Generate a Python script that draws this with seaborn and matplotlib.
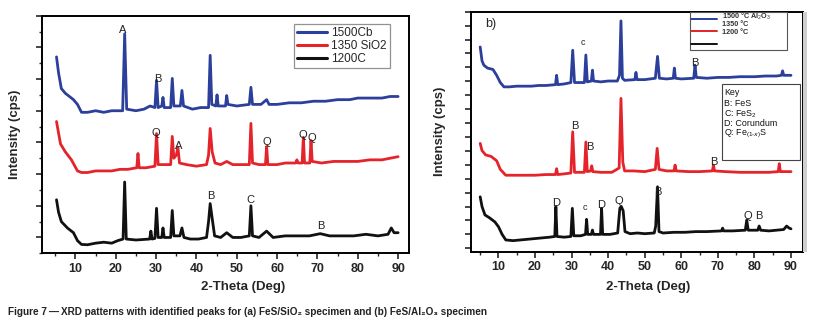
import numpy as np
import pandas as pd
import matplotlib.pyplot as plt
import seaborn as sns
from matplotlib.patches import Rectangle
from matplotlib.ticker import MultipleLocator

# (a) FeS/SiO2 - as (2-theta, offset intensity)
a_1500 = [(5.3, 6.7), (5.8, 6.2), (6.5, 5.7), (7.5, 5.55), (8.5, 5.45), (9.5, 5.35), (10.5, 5.2),
          (11.5, 4.95), (13, 4.95), (15, 5.0), (17, 4.95), (19, 5.0), (21.7, 5.0), (22.2, 7.43),
          (22.7, 5.05), (25, 5.0), (27, 5.05), (28.5, 5.15), (29.7, 5.1), (30.1, 5.96), (30.5, 5.1),
          (31.4, 5.15), (31.7, 5.42), (32.0, 5.1), (33.6, 5.1), (34.0, 6.02), (34.4, 5.15),
          (36.0, 5.15), (36.4, 5.64), (36.8, 5.15), (39, 5.05), (41, 5.1), (43.0, 5.1), (43.4, 6.75),
          (43.8, 5.2), (44.8, 5.15), (45.1, 5.5), (45.4, 5.15), (47.2, 5.15), (47.5, 5.48),
          (47.8, 5.2), (50, 5.15), (53.1, 5.2), (53.5, 5.74), (53.9, 5.2), (56, 5.2), (57.4, 5.35),
          (58, 5.2), (60, 5.2), (63, 5.25), (66, 5.25), (69, 5.3), (72, 5.3), (75, 5.35),
          (78, 5.35), (80, 5.4), (83, 5.4), (86, 5.4), (88, 5.45), (90, 5.45)]
a_1350 = [(5.3, 4.66), (5.8, 4.3), (6.3, 3.95), (7.5, 3.7), (9, 3.45), (10.5, 3.1), (11.5, 3.05),
          (13, 3.05), (15, 3.1), (17, 3.1), (19, 3.1), (21, 3.15), (23, 3.15), (25.2, 3.2),
          (25.5, 3.65), (25.8, 3.2), (27.5, 3.2), (29.7, 3.25), (30.1, 4.28), (30.5, 3.3),
          (32, 3.3), (33.6, 3.3), (34.0, 4.19), (34.4, 3.5), (35.0, 3.6), (35.4, 3.84), (35.8, 3.35),
          (37.5, 3.3), (40, 3.25), (42.5, 3.3), (43.0, 3.6), (43.4, 4.44), (43.9, 3.7), (44.6, 3.35),
          (46, 3.3), (47.5, 3.4), (49, 3.3), (51, 3.3), (53.1, 3.3), (53.5, 4.6), (53.9, 3.35),
          (55.5, 3.3), (57.1, 3.3), (57.4, 3.87), (57.7, 3.3), (60, 3.3), (62, 3.35), (64.6, 3.35),
          (64.9, 3.45), (65.2, 3.35), (66.2, 3.35), (66.5, 4.16), (66.8, 3.35), (68.1, 3.35),
          (68.4, 4.06), (68.7, 3.4), (71, 3.35), (74, 3.4), (77, 3.4), (80, 3.4), (83, 3.45),
          (86, 3.45), (88, 3.5), (90, 3.55)]
a_1200 = [(5.3, 2.19), (5.8, 1.8), (6.5, 1.5), (8, 1.3), (9.5, 1.15), (10.5, 0.9), (11.5, 0.78),
          (13, 0.77), (15, 0.82), (17, 0.85), (19, 0.82), (20.5, 0.9), (21.8, 0.95), (22.2, 2.75),
          (22.6, 0.95), (25, 0.92), (28.4, 0.95), (28.7, 1.2), (29.0, 0.95), (29.7, 0.97),
          (30.1, 1.92), (30.5, 1.0), (31.4, 1.0), (31.7, 1.3), (32.0, 1.0), (33.6, 1.0), (34.0, 1.85),
          (34.4, 1.05), (35.9, 1.05), (36.4, 1.3), (36.9, 1.0), (38.5, 0.95), (40.5, 0.95),
          (42.5, 1.0), (43.0, 1.5), (43.4, 2.07), (43.9, 1.6), (44.5, 1.05), (46, 1.0), (47.5, 1.15),
          (49, 1.0), (51, 1.0), (53.1, 1.05), (53.5, 2.0), (53.9, 1.05), (55.5, 1.0), (57.4, 1.2),
          (59, 1.0), (62, 1.05), (65, 1.05), (68, 1.05), (70.7, 1.12), (73, 1.05), (76, 1.05),
          (79, 1.05), (82, 1.1), (85, 1.05), (87.5, 1.1), (88.3, 1.3), (89, 1.15), (90, 1.15)]

# (b) FeS/Al2O3
b_1500 = [(5.0, 14.47), (5.5, 13.47), (6.0, 13.16), (7.0, 12.95), (8.5, 12.85), (9.5, 12.43),
          (10.5, 11.91), (11.5, 11.6), (13, 11.6), (15, 11.65), (17, 11.65), (19, 11.65), (21, 11.7),
          (23, 11.7), (25.6, 11.76), (25.9, 12.43), (26.2, 11.76), (28, 11.81), (29.8, 11.91),
          (30.3, 14.23), (30.8, 11.91), (32.5, 11.91), (33.5, 11.91), (33.9, 13.89), (34.3, 11.96),
          (35.4, 12.02), (35.7, 12.8), (36.0, 12.02), (38, 11.96), (40, 12.02), (42.5, 12.02),
          (43.1, 12.43), (43.5, 16.34), (43.9, 12.22), (44.5, 12.07), (47.3, 12.12), (47.6, 12.64),
          (47.9, 12.12), (50, 12.12), (52.9, 12.22), (53.5, 13.79), (54.0, 12.22), (56, 12.17),
          (57.8, 12.22), (58.1, 12.95), (58.4, 12.22), (60, 12.17), (63.4, 12.22), (63.75, 13.16),
          (64.1, 12.28), (67, 12.22), (70, 12.28), (73, 12.28), (76, 12.33), (80, 12.33),
          (83, 12.38), (86, 12.38), (87.4, 12.43), (87.7, 12.75), (88, 12.43), (90, 12.43)]
b_1350 = [(5.0, 7.54), (5.5, 7.02), (6.5, 6.71), (8, 6.6), (9.5, 6.29), (10.5, 5.67), (12, 5.25),
          (14, 5.25), (17, 5.25), (20, 5.25), (23, 5.3), (25.6, 5.3), (25.9, 5.72), (26.2, 5.3),
          (28, 5.35), (29.8, 5.41), (30.3, 8.37), (30.8, 5.46), (33.5, 5.46), (33.9, 7.64),
          (34.3, 5.51), (35.2, 5.56), (35.5, 5.93), (35.8, 5.51), (38, 5.46), (41, 5.46),
          (43.0, 5.77), (43.5, 10.77), (44.0, 6.19), (44.5, 5.56), (47, 5.56), (50, 5.51),
          (52.9, 5.67), (53.4, 7.18), (53.9, 5.67), (56, 5.56), (58.0, 5.56), (58.3, 5.98),
          (58.6, 5.56), (62, 5.51), (65, 5.51), (68.5, 5.56), (68.8, 5.98), (69.1, 5.56),
          (72, 5.51), (76, 5.46), (80, 5.46), (84, 5.46), (86.5, 5.51), (86.8, 6.08), (87.1, 5.51),
          (90, 5.51)]
b_1200 = [(5.0, 3.7), (5.5, 3.0), (6.3, 2.4), (7.5, 2.2), (9, 1.9), (10, 1.55), (11, 1.0), (12, 0.6),
          (14, 0.55), (16, 0.6), (18, 0.65), (20, 0.7), (22, 0.75), (24, 0.8), (25.4, 0.85),
          (25.7, 2.99), (26.0, 0.85), (28, 0.8), (29.8, 0.85), (30.2, 2.87), (30.6, 0.9), (32.5, 0.9),
          (33.8, 1.0), (34.1, 2.08), (34.4, 1.0), (35.4, 1.0), (35.7, 1.31), (36.0, 1.0), (37.9, 1.0),
          (38.2, 2.87), (38.5, 1.0), (40.5, 1.0), (42.6, 1.1), (43.2, 2.9), (43.6, 2.99), (44.1, 2.7),
          (44.6, 1.2), (46, 1.05), (48, 1.1), (50, 1.05), (52.6, 1.1), (53.0, 1.6), (53.5, 4.42),
          (53.9, 1.2), (55, 1.1), (58, 1.15), (61, 1.15), (64, 1.2), (67, 1.2), (71, 1.25),
          (71.3, 1.45), (71.6, 1.25), (74, 1.25), (77.5, 1.3), (77.9, 2.03), (78.3, 1.3),
          (80.9, 1.3), (81.3, 1.6), (81.7, 1.3), (84, 1.25), (86, 1.3), (88, 1.35), (88.8, 1.6),
          (89.5, 1.45), (90, 1.4)]

# peak letters (x, y, text)
a_peaks = [(21.7, 7.55, "A"), (30.3, 6.0, "B"), (29.9, 4.3, "Q"), (35.5, 3.9, "A"), (57.4, 4.0, "Q"),
           (66.3, 4.24, "Q"), (68.6, 4.15, "Q"), (43.5, 2.31, "B"), (53.3, 2.19, "C"), (70.8, 1.35, "B")]
b_peaks = [(33.2, 14.76, "c"), (63.6, 13.32, "B"), (30.9, 8.78, "B"), (35.0, 7.29, "B"),
           (68.8, 6.17, "B"), (25.9, 3.27, "D"), (33.6, 2.94, "c"), (38.2, 3.11, "D"),
           (43.0, 3.42, "Q"), (53.5, 4.06, "B"), (78.3, 2.32, "Q"), (81.1, 2.32, "B")]

a_names = ["1500Cb", "1350 SiO2", "1200C"]
b_names = ["1500 °C", "1350 °C", "1200 °C"]
b_legend = ["1500 °C Al$_2$O$_3$", "1350 °C", "1200 °C"]
colors = ["#2b3f9b", "#e5232a", "#111111"]
key_lines = ["Key", "B: FeS", "C: FeS$_2$", "D: Corundum", "Q: Fe$_{(1\\text{-}x)}$S"]


def to_frame(series, names):
    rows = []
    for pts, name in zip(series, names):
        for x, y in pts:
            rows.append((x, y, name))
    return pd.DataFrame(rows, columns=["theta", "intensity", "sample"])


sns.set_theme(style="ticks")
plt.rcParams["font.family"] = ["Liberation Sans", "DejaVu Sans"]
plt.rcParams["mathtext.fontset"] = "custom"
plt.rcParams["mathtext.rm"] = "Liberation Sans"

fig = plt.figure(figsize=(8.2, 3.21), dpi=100)
axa = fig.add_axes([0.0512, 0.2109, 0.4476, 0.7402])
axb = fig.add_axes([0.574, 0.2165, 0.4049, 0.7470])

dfa = to_frame([a_1500, a_1350, a_1200], a_names)
dfb = to_frame([b_1500, b_1350, b_1200], b_names)

sns.lineplot(data=dfa, x="theta", y="intensity", hue="sample", palette=colors, estimator=None,
             linewidth=2.0, ax=axa)
sns.lineplot(data=dfb, x="theta", y="intensity", hue="sample", palette=colors, estimator=None,
             linewidth=2.0, ax=axb, legend=False)

for ax in (axa, axb):
    ax.xaxis.set_major_locator(MultipleLocator(10))
    ax.xaxis.set_minor_locator(MultipleLocator(5))
    ax.tick_params(which="major", direction="out", length=4, width=1.2, labelsize=9, pad=3)
    ax.tick_params(which="minor", direction="out", length=2.5, width=1.0)
    for s in ax.spines.values():
        s.set_linewidth(1.4)
        s.set_color("black")
    ax.set_xlabel("2-Theta (Deg)", fontsize=9.5, fontweight="bold")
    ax.set_ylabel("Intensity (cps)", fontsize=9.5, fontweight="bold")

axa.set_xlim(1.7, 92.7)
axa.set_ylim(0.5, 8.0)
axa.yaxis.set_major_locator(MultipleLocator(1))
axa.yaxis.set_minor_locator(MultipleLocator(0.5))
axa.set_xticks(range(10, 91, 10))
axa.set_yticklabels([])
for lab in axa.get_xticklabels():
    lab.set_fontweight("bold")
axa.xaxis.set_label_coords(0.548, -0.117)
axa.yaxis.set_label_coords(-0.057, 0.5)

axb.set_xlim(2.4, 93.2)
axb.set_ylim(-0.23, 17.0)
axb.yaxis.set_major_locator(MultipleLocator(1))
axb.set_xticks(range(10, 91, 10))
axb.set_yticklabels([])
for lab in axb.get_xticklabels():
    lab.set_fontweight("bold")
axb.xaxis.set_label_coords(0.534, -0.123)
axb.yaxis.set_label_coords(-0.074, 0.5)

for x, y, t in a_peaks:
    axa.text(x, y, t, ha="center", va="center", fontsize=8, color="#222222")
for x, y, t in b_peaks:
    axb.text(x, y, t, ha="center", va="center", fontsize=8 if t != "c" else 6.5, color="#222222")

leg = axa.legend(loc="upper left", bbox_to_anchor=(0.687, 0.965), fontsize=8.5, frameon=True,
                 fancybox=False, edgecolor="#777777", handlelength=2.5, handletextpad=0.4,
                 labelspacing=0.1, borderpad=0.25, borderaxespad=0)
leg.get_frame().set_linewidth(0.9)
for ln in leg.get_lines():
    ln.set_linewidth(2.2)

# legend of panel (b), as drawn in the source figure
axb.add_patch(Rectangle((0.66, 0.84), 0.293, 0.16, transform=axb.transAxes, facecolor="white",
                        edgecolor="#555555", linewidth=0.8, zorder=5))
for yy, c in zip([0.97, 0.92, 0.865], colors):
    axb.plot([0.663, 0.743], [yy, yy], color=c, lw=1.4, transform=axb.transAxes, zorder=6)
for yy, t in zip([0.98, 0.948, 0.915], b_legend):
    axb.text(0.757, yy, t, fontsize=5.2, fontweight="bold", color="#333333", va="center",
             transform=axb.transAxes, zorder=6)

# key box
axb.add_patch(Rectangle((0.756, 0.382), 0.236, 0.316, transform=axb.transAxes, facecolor="white",
                        edgecolor="#444444", linewidth=0.8, zorder=5))
for yy, t in zip([0.653, 0.607, 0.565, 0.523, 0.482], key_lines):
    axb.text(0.764, yy, t, fontsize=6.4, color="#111111", va="baseline", transform=axb.transAxes,
             zorder=6)

axb.text(0.043, 0.949, "b)", fontsize=9, va="center", transform=axb.transAxes)

# light grey strip right of panel (b)
fig.patches.append(Rectangle((803.5 / 820, 1 - 252 / 321), 3.5 / 820, 240 / 321,
                             transform=fig.transFigure, facecolor="#cfcfcf", edgecolor="none"))

fig.text(8 / 820, 1 - 312 / 321,
         "Figure 7\u2009\u2014\u2009XRD patterns with identified peaks for (a) FeS/SiO\u2082 specimen "
         "and (b) FeS/Al\u2082O\u2083 specimen",
         fontsize=7.2, fontweight="bold", va="center", color="#222222")

fig.savefig("out.png", dpi=100)
